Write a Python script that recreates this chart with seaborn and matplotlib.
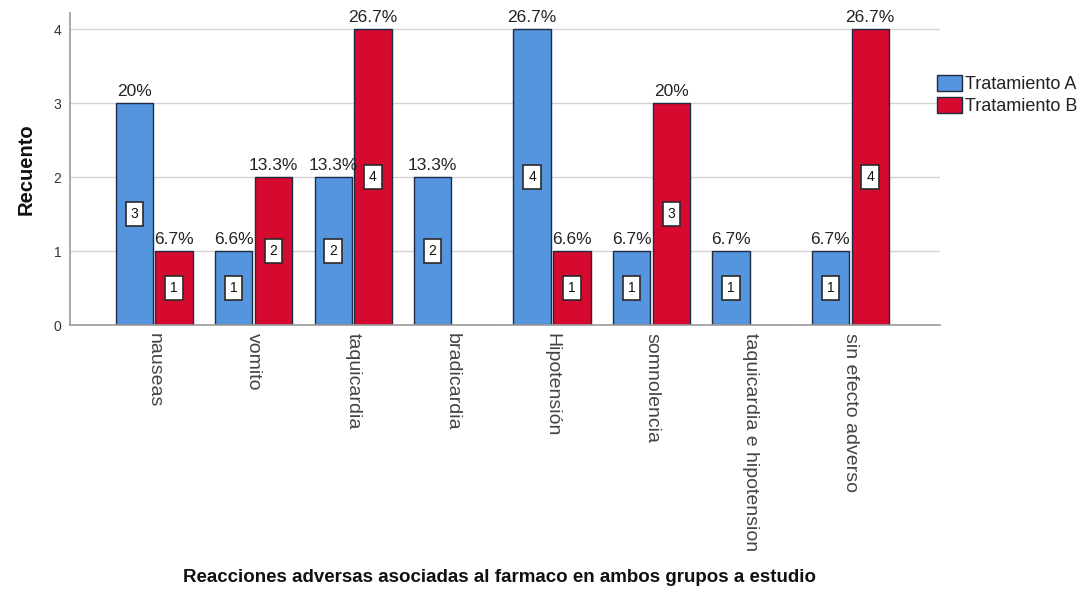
import matplotlib
matplotlib.use("Agg")
import matplotlib.pyplot as plt
import seaborn as sns
import pandas as pd

categories = ["nauseas", "vomito", "taquicardia", "bradicardia", "Hipotensión",
              "somnolencia", "taquicardia e hipotension", "sin efecto adverso"]
groups = ["Tratamiento A", "Tratamiento B"]
counts_a = [3, 1, 2, 2, 4, 1, 1, 1]
counts_b = [1, 2, 4, 0, 1, 3, 0, 4]
pct_a = ["20%", "6.6%", "13.3%", "13.3%", "26.7%", "6.7%", "6.7%", "6.7%"]
pct_b = ["6.7%", "13.3%", "26.7%", "", "6.6%", "20%", "", "26.7%"]
colors = ["#5595DE", "#D60A2E"]

df = pd.DataFrame({
    "categoria": categories * 2,
    "grupo": [groups[0]] * len(categories) + [groups[1]] * len(categories),
    "recuento": counts_a + counts_b,
})

sns.set_theme(style="white")
plt.rcParams["font.family"] = ["Liberation Sans", "DejaVu Sans"]

fig = plt.figure(figsize=(10.89, 5.91), dpi=100)
ax = fig.add_axes([0.064, 0.45, 0.799, 0.528])

sns.barplot(data=df, x="categoria", y="recuento", hue="grupo", order=categories,
            hue_order=groups, palette=colors, saturation=1, width=0.8, gap=0.06,
            edgecolor="#1E2B45", linewidth=1.0, ax=ax, legend=True)

ax.set_xlim(-0.85, 7.9)
ax.set_ylim(0, 4.22)
ax.set_yticks([0, 1, 2, 3, 4])
ax.yaxis.grid(True, color="#D4D4D4", linewidth=1.0)
ax.set_axisbelow(True)
for s in ["top", "right"]:
    ax.spines[s].set_visible(False)
for s in ["left", "bottom"]:
    ax.spines[s].set_color("#9A9A9A")
    ax.spines[s].set_linewidth(1.2)

ax.tick_params(axis="y", labelsize=10, colors="#333333", length=0, pad=6)
ax.tick_params(axis="x", labelsize=14, colors="#444444", length=0, pad=6)
for lbl in ax.get_xticklabels():
    lbl.set_rotation(-90)
    lbl.set_va("top")
    lbl.set_ha("center")

ax.set_ylabel("Recuento", fontsize=14.5, fontweight="bold", color="#111111", labelpad=13)
ax.set_xlabel("")
fig.text(0.459, 0.022, "Reacciones adversas asociadas al farmaco en ambos grupos a estudio",
         ha="center", va="center", fontsize=13.5, fontweight="bold", color="#111111")

pct_lists = [pct_a, pct_b]
for container, pcts in zip(ax.containers, pct_lists):
    for bar, pct in zip(container, pcts):
        h = bar.get_height()
        if h <= 0:
            continue
        cx = bar.get_x() + bar.get_width() / 2
        ax.text(cx, h + 0.06, pct, ha="center", va="bottom", fontsize=12.5,
                color="#222222")
        ax.text(cx, h / 2, f"{int(h)}", ha="center", va="center", fontsize=10,
                color="#111111",
                bbox=dict(boxstyle="square,pad=0.35", fc="white", ec="#2A2A2A", lw=1.2))

leg = ax.legend(loc="upper left", bbox_to_anchor=(0.997, 0.80), frameon=False,
                fontsize=13, handlelength=1.35, handleheight=0.95, handletextpad=0.2,
                labelspacing=0.22, borderaxespad=0, borderpad=0)
for t in leg.get_texts():
    t.set_color("#222222")

fig.savefig("out.png", dpi=100)
